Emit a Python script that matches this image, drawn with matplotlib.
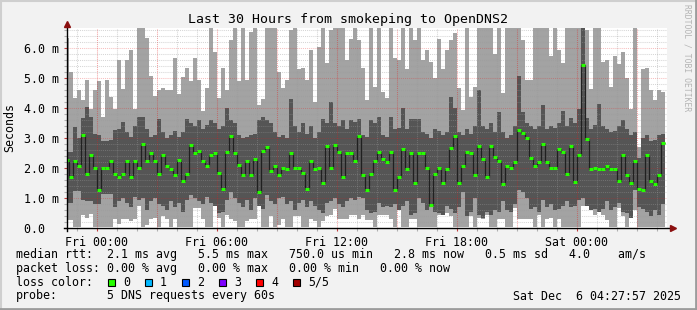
import numpy as np
import matplotlib.pyplot as plt

# smokeping RTT per 12-minute column, in ms (5 pings sorted: min, 2nd, median, 4th, max)
# x in hours relative to Fri 00:00; first column is a half one
rtt_max = [6.32, 5.21, 4.34, 4.61, 4.28, 4.94, 3.98, 4.61, 4.9, 3.71,
           4.94, 4.37, 3.98, 5.6, 4.65, 5.6, 5.93, 3.98, 6.7, 6.7,
           6.32, 5.08, 4.4, 4.61, 4.68, 4.61, 4.61, 5.66, 4.48, 5.04,
           5.34, 4.9, 5.66, 4.94, 3.91, 4.68, 6.7, 5.88, 4.34, 5.34,
           4.61, 6.28, 6.7, 4.9, 6.7, 4.94, 6.55, 6.7, 4.1, 4.3,
           6.7, 6.7, 6.7, 5.2, 4.68, 4.94, 6.6, 6.7, 5.3, 5.33,
           4.94, 5.93, 4.2, 6.05, 6.7, 5.5, 6.6, 6.7, 6.7, 6.7,
           5.6, 6.3, 6.7, 6.27, 5.34, 4.28, 6.7, 4.7, 6.7, 4.54,
           4.35, 6.7, 5.67, 5.6, 6.7, 5.3, 6.7, 6.27, 6.7, 5.6,
           5.93, 5.55, 5.0, 6.3, 5.3, 5.93, 6.27, 6.5, 4.68, 3.93,
           6.7, 4.38, 4.7, 6.7, 6.7, 6.7, 6.7, 5.8, 6.7, 4.5,
           6.7, 6.7, 6.7, 6.7, 6.27, 4.93, 4.93, 6.7, 6.7, 6.7,
           6.7, 5.74, 6.7, 5.93, 5.51, 6.7, 6.7, 6.7, 6.7, 6.7,
           6.6, 4.63, 6.7, 6.7, 5.54, 5.6, 4.71, 5.73, 5.47, 5.87,
           5.0, 3.97, 6.7, 2.7, 5.3, 5.33, 4.6, 4.27, 4.6, 4.55]
rtt_p4 = [2.55, 2.55, 3.38, 3.0, 3.67, 4.04, 3.7, 3.13, 3.1, 2.9,
          2.9, 2.95, 3.28, 3.3, 3.55, 3.2, 3.05, 3.4, 3.7, 3.7,
          3.3, 3.05, 3.1, 3.65, 3.2, 3.0, 3.1, 3.25, 3.05, 3.2,
          3.65, 3.5, 3.4, 3.6, 3.3, 3.45, 3.6, 3.5, 3.3, 3.4,
          4.0, 3.6, 3.5, 3.1, 3.0, 3.05, 3.1, 3.15, 3.6, 3.7,
          3.6, 3.5, 3.2, 3.05, 3.1, 3.0, 4.3, 3.4, 3.2, 3.5,
          3.15, 3.4, 3.0, 3.2, 3.65, 3.5, 4.2, 3.5, 3.4, 3.6,
          3.3, 3.6, 3.55, 3.65, 3.1, 3.05, 3.6, 3.5, 3.7, 3.1,
          3.05, 3.7, 3.3, 3.35, 4.0, 3.3, 3.65, 3.65, 3.65, 3.2,
          3.15, 3.0, 3.3, 3.25, 3.1, 3.2, 4.38, 4.0, 3.2, 3.1,
          3.3, 3.15, 3.4, 4.6, 3.4, 3.3, 3.5, 3.2, 3.87, 3.2,
          3.0, 3.1, 3.4, 5.07, 3.87, 3.5, 3.4, 3.3, 3.4, 4.1,
          3.3, 3.4, 3.35, 3.5, 3.9, 3.4, 3.67, 3.5, 3.97, 6.7,
          3.67, 3.3, 3.45, 4.13, 3.4, 3.3, 3.2, 3.25, 3.4, 3.6,
          3.3, 3.1, 3.2, 2.35, 3.0, 3.1, 2.9, 2.95, 3.1, 3.15]
rtt_median = [2.28, 1.69, 2.22, 2.06, 3.09, 1.79, 2.42, 1.99, 1.26, 1.99,
              1.99, 2.22, 1.79, 1.69, 1.79, 2.22, 1.69, 2.22, 1.99, 2.81,
              2.22, 2.49, 2.22, 1.79, 2.42, 2.06, 1.96, 1.76, 2.26, 1.56,
              1.79, 2.76, 2.49, 2.56, 2.22, 2.06, 2.42, 2.49, 1.82, 1.29,
              2.52, 3.06, 2.49, 2.09, 1.76, 2.22, 1.76, 2.29, 1.19, 2.56,
              2.69, 1.89, 2.06, 1.76, 1.99, 1.96, 2.49, 1.99, 1.99, 1.82,
              1.29, 2.22, 1.96, 1.99, 1.49, 2.72, 1.99, 2.76, 2.52, 1.69,
              2.49, 2.49, 2.22, 3.06, 1.76, 1.26, 1.79, 2.22, 2.52, 2.29,
              2.19, 2.52, 1.26, 1.69, 2.62, 1.96, 2.49, 1.49, 2.49, 2.49,
              1.99, 0.76, 1.79, 1.99, 1.49, 1.96, 2.66, 3.06, 1.49, 2.06,
              2.52, 2.49, 1.76, 2.72, 2.29, 1.69, 2.72, 2.36, 2.22, 1.46,
              2.06, 1.99, 2.19, 3.26, 3.16, 2.99, 2.32, 2.06, 2.19, 2.79,
              2.19, 1.99, 1.99, 2.62, 2.52, 1.79, 2.72, 1.52, 2.42, 5.43,
              2.96, 1.96, 1.99, 1.96, 1.96, 2.06, 1.96, 1.96, 1.56, 2.42,
              1.76, 1.49, 2.22, 1.29, 1.26, 2.42, 1.56, 1.46, 1.76, 2.82]
rtt_p2 = [0.83, 0.83, 1.22, 1.22, 0.93, 0.9, 0.9, 0.8, 0.8, 1.15,
          1.15, 1.15, 0.7, 0.9, 1.0, 0.85, 0.7, 1.05, 0.95, 1.0,
          0.6, 0.9, 1.0, 0.8, 0.75, 0.6, 0.9, 0.7, 0.85, 0.55,
          0.95, 1.1, 1.0, 0.9, 0.8, 1.05, 0.85, 0.75, 0.5, 0.55,
          0.95, 1.2, 1.0, 0.85, 0.7, 0.95, 0.6, 1.0, 0.75, 0.65,
          1.1, 0.9, 0.8, 1.0, 1.05, 0.8, 0.9, 0.6, 0.85, 0.95,
          0.7, 0.9, 0.75, 0.6, 0.5, 0.85, 0.9, 1.0, 0.8, 0.7,
          0.9, 1.0, 0.95, 1.05, 1.0, 0.6, 0.5, 0.55, 0.85, 0.7,
          0.75, 0.7, 0.8, 0.6, 0.75, 0.9, 0.45, 0.5, 1.0, 0.85,
          0.6, 0.7, 0.55, 0.5, 0.45, 0.75, 0.65, 0.5, 0.7, 1.2,
          0.4, 0.55, 1.0, 0.45, 0.35, 0.55, 0.45, 0.6, 0.55, 0.9,
          0.6, 0.55, 0.8, 1.28, 1.2, 1.0, 0.65, 0.7, 0.55, 0.95,
          0.7, 0.8, 0.6, 0.65, 0.75, 0.9, 0.7, 0.75, 0.95, 1.0,
          0.75, 0.6, 0.65, 0.55, 0.65, 0.9, 0.6, 0.7, 0.85, 0.55,
          0.5, 0.35, 1.28, 0.7, 0.65, 0.55, 0.4, 0.6, 0.45, 0.8]
rtt_min = [0.27, 0.27, 0.02, 0.02, 0.44, 0.35, 0.48, 0.02, 0.05, 0.02,
           0.02, 0.02, 0.3, 0.15, 0.3, 0.3, 0.25, 0.3, 0.74, 0.02,
           0.1, 0.3, 0.35, 0.02, 0.4, 0.3, 0.02, 0.3, 0.02, 0.02,
           0.02, 0.02, 0.67, 0.67, 0.3, 0.02, 0.02, 0.74, 0.35, 0.02,
           0.45, 0.3, 0.25, 0.02, 0.02, 0.25, 0.3, 0.3, 0.74, 0.02,
           0.02, 0.4, 0.02, 0.1, 0.3, 0.02, 0.02, 0.4, 0.4, 0.02,
           0.02, 0.3, 0.25, 0.02, 0.25, 0.4, 0.45, 0.65, 0.3, 0.3,
           0.3, 0.45, 0.45, 0.3, 0.45, 0.28, 0.28, 0.02, 0.44, 0.44,
           0.44, 0.3, 0.02, 1.05, 0.02, 0.02, 0.3, 0.3, 0.02, 0.02,
           0.02, 0.02, 0.02, 0.45, 0.45, 0.5, 0.4, 0.02, 0.02, 0.02,
           0.02, 0.4, 0.02, 0.35, 0.3, 0.45, 0.02, 0.02, 0.3, 0.3,
           0.02, 0.02, 0.67, 0.3, 0.3, 0.3, 0.3, 0.02, 0.45, 0.02,
           0.3, 0.35, 0.02, 0.3, 0.02, 0.02, 0.02, 0.02, 0.02, 0.72,
           0.72, 0.85, 0.45, 0.94, 0.45, 0.28, 0.02, 0.02, 0.67, 0.4,
           0.02, 0.6, 0.6, 0.02, 0.02, 0.02, 0.02, 0.02, 0.02, 0.02]

y_labels = ["0.0  ", "1.0 m", "2.0 m", "3.0 m", "4.0 m", "5.0 m", "6.0 m"]
x_label_hours = [0, 6, 12, 18, 24]
x_labels = ["Fri 00:00", "Fri 06:00", "Fri 12:00", "Fri 18:00", "Sat 00:00"]

loss_labels = ["0", "1", "2", "3", "4", "5/5"]
loss_colors = ["#26ff00", "#00b8ff", "#0059ff", "#7e00ff", "#ff0000", "#a10000"]

plt.rcParams['font.family'] = ['DejaVu Sans Mono']
W, H = 697, 310

def px(x, y):
    return x / W, 1 - y / H

n = len(rtt_median)
edges = np.concatenate([[-1.5], -1.4 + 0.2 * np.arange(n)])
ytop = 200 / 30.0

fig = plt.figure(figsize=(W / 100, H / 100), dpi=100)
fig.patch.set_facecolor('#f2f2f2')
ax = fig.add_axes([66.7 / W, 82 / H, 600 / W, 200 / H])
ax.set_facecolor('white')
ax.set_xlim(-1.5, 28.5)
ax.set_ylim(0, ytop)
for s in ax.spines.values():
    s.set_visible(False)

# smoke
ax.stairs(rtt_max, edges, baseline=rtt_min, fill=True, color='#a3a3a3', lw=0, zorder=1)
ax.stairs(rtt_p4, edges, baseline=rtt_p2, fill=True, color='#555555', lw=0, zorder=1)

# grid
dots = (0, (1, 1))
hours = np.arange(-1, 29)
minor_h = [h for h in hours if h % 3 != 0]
major_h = [h for h in hours if h % 3 == 0]
grey = (0.6, 0.6, 0.6, 0.4)
red = (0.9, 0.1, 0.1, 0.28)
ax.vlines(minor_h, 0, ytop, colors=[grey], linestyles=dots, lw=0.75, zorder=2)
ax.vlines(major_h, 0, ytop, colors=[(0.9, 0.1, 0.1, 0.4)], linestyles=dots, lw=0.75, zorder=2)
ys = np.round(np.arange(0.2, ytop, 0.2), 1)
ax.hlines([y for y in ys if y % 1 != 0], -1.5, 28.5, colors=[grey],
          linestyles=dots, lw=0.75, zorder=2)
ax.hlines([1, 2, 3, 4, 5, 6], -1.5, 28.5, colors=[red],
          linestyles=dots, lw=0.75, zorder=2)

# median line and loss colour marks
ax.stairs(rtt_median, edges, baseline=None, color='#202020', lw=0.9, zorder=4)
ax.hlines(rtt_median, edges[:-1], edges[1:], colors=loss_colors[0], lw=2.2,
          zorder=5, capstyle='butt')

# axes lines and arrows
ax.plot([-1.65, 28.75], [0, 0], color='black', lw=1, clip_on=False, zorder=6)
ax.plot([-1.5, -1.5], [-0.1, 6.8], color='black', lw=1, clip_on=False, zorder=6)
ax.plot([28.8], [0], marker='>', color='#8b1010', ms=5, clip_on=False, zorder=7)
ax.plot([-1.5], [6.8], marker='^', color='#8b1010', ms=5, clip_on=False, zorder=7)

# ticks
ax.set_yticks(range(7))
ax.set_yticklabels(y_labels, fontsize=8.4)
ax.set_yticks(ys, minor=True)
ax.set_xticks(x_label_hours)
ax.set_xticklabels(x_labels, fontsize=8.4)
ax.set_xticks(hours, minor=True)
ax.tick_params(which='major', length=2, width=0.8, color='#c04040', pad=3.5)
ax.tick_params(which='minor', length=2, width=0.8, color='#b0b0b0')

# texts
fig.text(*px(348.5, 19), "Last 30 Hours from smokeping to OpenDNS2", fontsize=9.5,
         ha='center', va='center')
fig.text(*px(10, 128), "Seconds", fontsize=8.4, rotation=90, ha='center', va='center')
fig.text(*px(687.5, 58), "RRDTOOL / TOBI OETIKER", fontsize=5.8, rotation=270,
         ha='center', va='center', color='#b4b4b4')

fig.text(*px(16, 254.5), "median rtt:  2.1 ms avg   5.5 ms max   750.0 us min   "
         "2.8 ms now   0.5 ms sd   4.0    am/s", fontsize=8.4, va='center')
fig.text(*px(16, 268.3), "packet loss: 0.00 % avg   0.00 % max   0.00 % min   "
         "0.00 % now", fontsize=8.4, va='center')
fig.text(*px(16, 282.3), "loss color:", fontsize=8.4, va='center')
box_x = [108, 145, 182, 219, 256, 293]
for bx, lab, col in zip(box_x, loss_labels, loss_colors):
    fig.patches.append(plt.Rectangle(px(bx, 286), 7 / W, 7 / H, transform=fig.transFigure,
                                     facecolor=col, edgecolor='black', lw=0.8))
    fig.text(*px(bx + 15, 282.3), lab, fontsize=8.4, va='center')
fig.text(*px(16, 296), "probe:", fontsize=8.4, va='center')
fig.text(*px(107, 296), "5 DNS requests every 60s", fontsize=8.4, va='center')
fig.text(*px(681, 296), "Sat Dec  6 04:27:57 2025", fontsize=8.4, va='center', ha='right')

# frame: light top/left, dark bottom/right
fig.add_artist(plt.Line2D([0, 1], [0.997, 0.997], transform=fig.transFigure, color='#cfcfcf', lw=1.5))
fig.add_artist(plt.Line2D([0.0015, 0.0015], [0, 1], transform=fig.transFigure, color='#cfcfcf', lw=1.5))
fig.add_artist(plt.Line2D([0, 1], [0.004, 0.004], transform=fig.transFigure, color='#9c9c9c', lw=2))
fig.add_artist(plt.Line2D([0.998, 0.998], [0, 1], transform=fig.transFigure, color='#9c9c9c', lw=2))

fig.savefig('out.png', dpi=100, facecolor=fig.get_facecolor())
